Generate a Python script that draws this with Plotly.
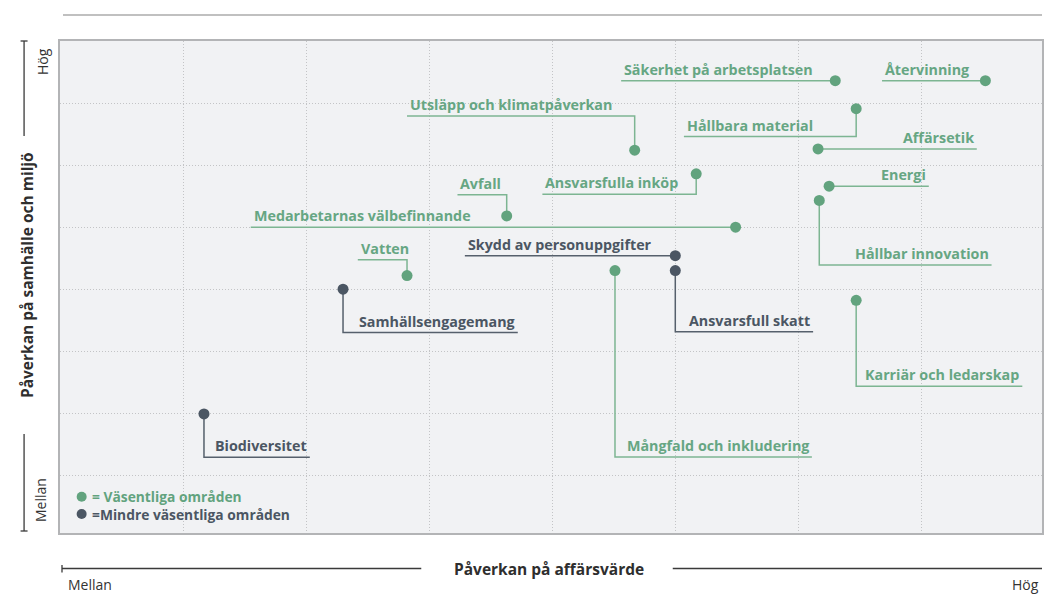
import plotly.graph_objects as go

# ---------------- data ----------------
names = [
    "Säkerhet på arbetsplatsen", "Återvinning", "Hållbara material", "Affärsetik",
    "Utsläpp och klimatpåverkan", "Ansvarsfulla inköp", "Energi", "Hållbar innovation",
    "Avfall", "Medarbetarnas välbefinnande", "Skydd av personuppgifter", "Ansvarsfull skatt",
    "Mångfald och inkludering", "Vatten", "Samhällsengagemang", "Karriär och ledarskap",
    "Biodiversitet",
]
business_impact = [6.30, 7.52, 6.47, 6.16, 4.67, 5.17, 6.25, 6.17, 3.63, 5.49, 5.00, 5.00,
                   4.51, 2.82, 2.30, 6.47, 1.17]
society_impact = [7.36, 7.36, 6.91, 6.26, 6.24, 5.86, 5.66, 5.43, 5.18, 5.00, 4.54, 4.30,
                  4.30, 4.22, 4.00, 3.82, 1.99]
essential = [True, True, True, True, True, True, True, True, True, True, False, False,
             True, True, False, True, False]

# label placement (end of leader line, in axis units)
label_x = [4.56, 6.68, 5.07, 7.45, 2.82, 3.92, 7.06, 7.57, 3.23, 1.55, 3.29, 6.12,
           6.11, 2.42, 3.72, 7.82, 2.03]
label_y = [7.36, 7.36, 6.46, 6.26, 6.79, 5.53, 5.66, 4.39, 5.52, 5.00, 4.54, 3.315,
           1.295, 4.475, 3.30, 2.435, 1.29]

legend_labels = ["= Väsentliga områden", "=Mindre väsentliga områden"]
x_title = "Påverkan på affärsvärde"
y_title = "Påverkan på samhälle och miljö"
low_label, high_label = "Mellan", "Hög"

# ---------------- style ----------------
GREEN = "#62a37e"
GREEN_TXT = "#66a683"
GREEN_LINE = "#7db592"
DARK = "#4b5663"
DARK_TXT = "#4b5663"
DARK_LINE = "#56606c"
FONT = "Open Sans"
LBL_SIZE = 14.3
W, H = 1044, 594
L, R, T, B = 60, 0, 41, 61


def px(x):
    return (x - L) / (W - L - R)


def py(y):
    return (H - B - y) / (H - T - B)


fig = go.Figure()

# leader lines
for i, n in enumerate(names):
    col = GREEN_LINE if essential[i] else DARK_LINE
    xs = [business_impact[i], business_impact[i], label_x[i]]
    ys = [society_impact[i], label_y[i], label_y[i]]
    fig.add_trace(go.Scatter(x=xs, y=ys, mode="lines", line=dict(color=col, width=1.5),
                             hoverinfo="skip", showlegend=False, cliponaxis=False))

# dots
for flag, col in [(True, GREEN), (False, DARK)]:
    idx = [i for i in range(len(names)) if essential[i] == flag]
    fig.add_trace(go.Scatter(
        x=[business_impact[i] for i in idx], y=[society_impact[i] for i in idx],
        text=[names[i] for i in idx], mode="markers",
        marker=dict(color=col, size=11, line=dict(width=0)),
        hovertemplate="%{text}<extra></extra>", showlegend=False, cliponaxis=False))

annotations = []
for i, n in enumerate(names):
    right = label_x[i] > business_impact[i]
    annotations.append(dict(
        x=label_x[i], y=label_y[i], xref="x", yref="y", text=n, showarrow=False,
        xanchor="right" if right else "left", yanchor="bottom", yshift=0,
        xshift=1 if not right else -1,
        font=dict(family=FONT, size=LBL_SIZE, weight="bold",
                  color=GREEN_TXT if essential[i] else DARK_TXT)))

# legend (custom)
shapes = []
for k, (lab, col) in enumerate(zip(legend_labels, [GREEN, DARK])):
    yy = 496.7 + k * 17.3
    shapes.append(dict(type="circle", xref="paper", yref="paper",
                       xsizemode="pixel", ysizemode="pixel",
                       xanchor=px(81.7), yanchor=py(yy), x0=-5, x1=5, y0=-5, y1=5,
                       fillcolor=col, line=dict(width=0)))
    annotations.append(dict(x=px(90), y=py(yy), xref="paper", yref="paper", text=lab,
                            showarrow=False, xanchor="left", yanchor="middle",
                            font=dict(family=FONT, size=13.8, weight="bold", color=col)))

# outer decorations
line_dark = dict(color="#3a3a3a", width=1.3)
shapes += [
    dict(type="line", xref="paper", yref="paper", x0=px(63), x1=px(1044), y0=py(15), y1=py(15),
         line=dict(color="#ababab", width=1.5)),
    dict(type="line", xref="paper", yref="paper", x0=px(24), x1=px(24), y0=py(41), y1=py(136), line=line_dark),
    dict(type="line", xref="paper", yref="paper", x0=px(20.5), x1=px(27.5), y0=py(41), y1=py(41), line=line_dark),
    dict(type="line", xref="paper", yref="paper", x0=px(24), x1=px(24), y0=py(434), y1=py(531), line=line_dark),
    dict(type="line", xref="paper", yref="paper", x0=px(20.5), x1=px(27.5), y0=py(531), y1=py(531), line=line_dark),
    dict(type="line", xref="paper", yref="paper", x0=px(62), x1=px(422), y0=py(568.5), y1=py(568.5), line=line_dark),
    dict(type="line", xref="paper", yref="paper", x0=px(62), x1=px(62), y0=py(565), y1=py(572.5), line=line_dark),
    dict(type="line", xref="paper", yref="paper", x0=px(674), x1=px(1044), y0=py(568.5), y1=py(568.5), line=line_dark),
]

txt_reg = dict(family=FONT, size=14, color="#333333")
txt_bold = dict(family=FONT, size=15.5, weight="bold", color="#2e2e2e")
annotations += [
    dict(x=px(42), y=py(62), xref="paper", yref="paper", text=high_label, textangle=-90,
         showarrow=False, xanchor="center", yanchor="middle", font=txt_reg),
    dict(x=px(41), y=py(500), xref="paper", yref="paper", text=low_label, textangle=-90,
         showarrow=False, xanchor="center", yanchor="middle", font=txt_reg),
    dict(x=px(27), y=py(275), xref="paper", yref="paper", text=y_title, textangle=-90,
         showarrow=False, xanchor="center", yanchor="middle", font=txt_bold),
    dict(x=px(550), y=py(569), xref="paper", yref="paper", text=x_title,
         showarrow=False, xanchor="center", yanchor="middle", font=txt_bold),
    dict(x=px(66), y=py(584), xref="paper", yref="paper", text=low_label,
         showarrow=False, xanchor="left", yanchor="middle", font=txt_reg),
    dict(x=px(1043), y=py(584), xref="paper", yref="paper", text=high_label,
         showarrow=False, xanchor="right", yanchor="middle", font=txt_reg),
]

grid = dict(showgrid=True, gridcolor="#c3c4c6", gridwidth=1, griddash="1px,2px",
            zeroline=False, showticklabels=False, ticks="",
            showline=True, linecolor="#b3b4b6", linewidth=1.5, mirror=True, dtick=1)

fig.update_layout(
    width=W, height=H, margin=dict(l=L, r=R, t=T, b=B),
    paper_bgcolor="white", plot_bgcolor="#f1f2f4",
    xaxis=dict(range=[0, 7.98], tick0=0, **grid),
    yaxis=dict(range=[0.07, 8.0], tick0=0, **grid),
    shapes=shapes, annotations=annotations, showlegend=False,
    font=dict(family=FONT),
)

fig.write_html(
    "out.html",
    config={"displayModeBar": False},
    post_script="document.body.style.margin='0';document.body.style.overflow='hidden';",
)
